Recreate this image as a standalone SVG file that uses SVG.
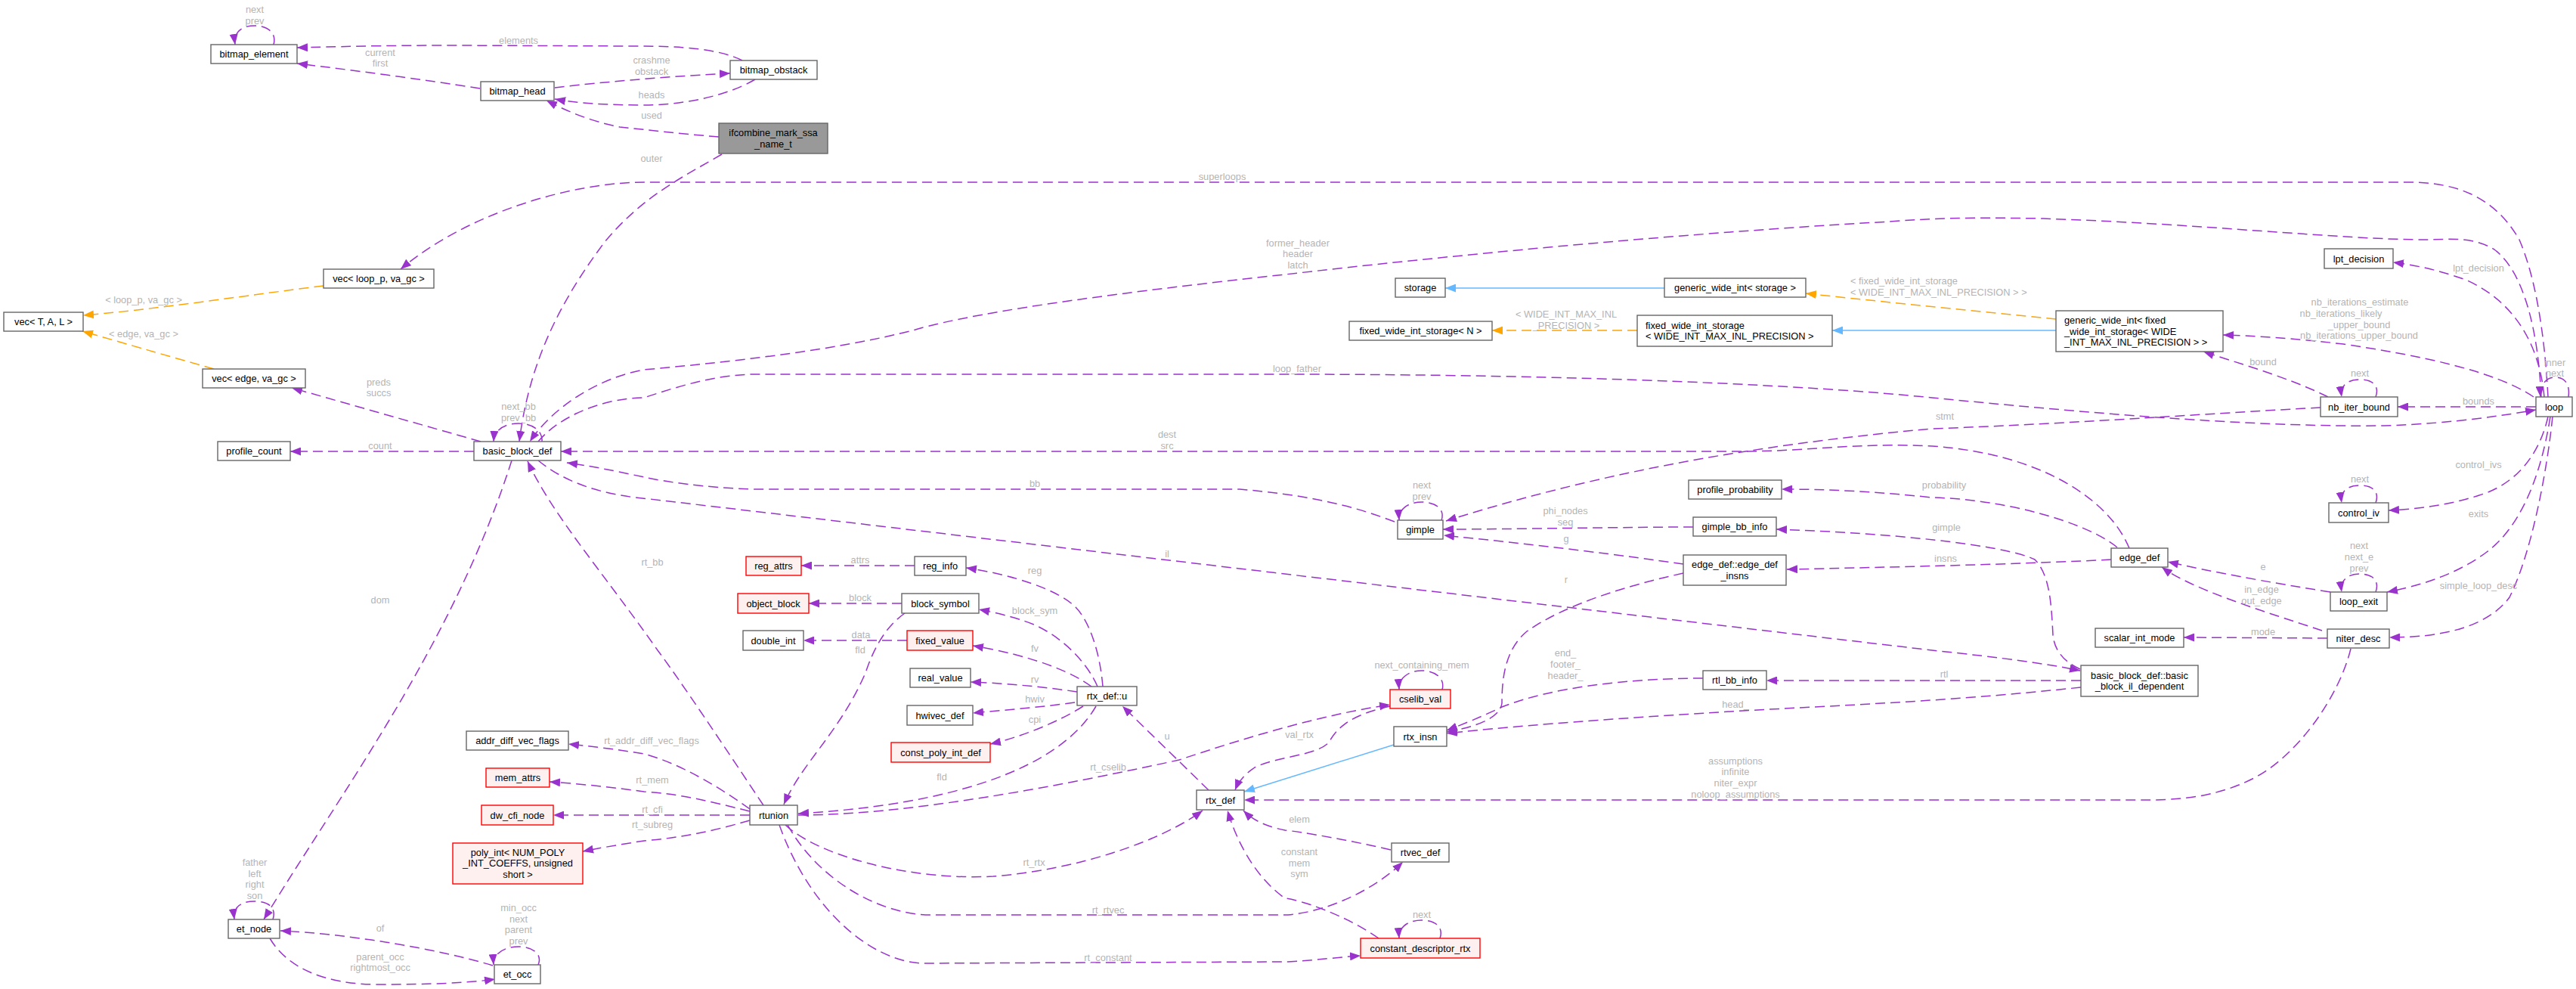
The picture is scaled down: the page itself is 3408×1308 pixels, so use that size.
<svg xmlns="http://www.w3.org/2000/svg" width="3408" height="1308" viewBox="0 0 3408 1308">
<style>
text{font-family:"Liberation Sans",Arial,sans-serif;font-size:12.8px}
.t{fill:#000;text-anchor:middle}
.tl{fill:#000;text-anchor:start}
.l{fill:#b4b4b4;text-anchor:middle}
.ll{fill:#b4b4b4;text-anchor:start}
.n rect{fill:#fff;stroke:#666;stroke-width:1.4}
.r rect{fill:#FFF0F0;stroke:#FF0000;stroke-width:1.4}
.g rect{fill:#999;stroke:#666;stroke-width:1.4}
.e{fill:none;stroke:#9A32CD;stroke-width:1.5;stroke-dasharray:13,7;marker-end:url(#ap)}
.o{fill:none;stroke:#FFA500;stroke-width:1.5;stroke-dasharray:13,7;marker-end:url(#ao)}
.b{fill:none;stroke:#63B8FF;stroke-width:1.5;marker-end:url(#ab)}
</style>
<defs>
<marker id="ap" markerUnits="userSpaceOnUse" markerWidth="15" markerHeight="11" refX="14" refY="5.5" orient="auto"><path d="M0,0 L14,5.5 L0,11 z" fill="#9A32CD"/></marker>
<marker id="ao" markerUnits="userSpaceOnUse" markerWidth="15" markerHeight="11" refX="14" refY="5.5" orient="auto"><path d="M0,0 L14,5.5 L0,11 z" fill="#FFA500"/></marker>
<marker id="ab" markerUnits="userSpaceOnUse" markerWidth="15" markerHeight="11" refX="14" refY="5.5" orient="auto"><path d="M0,0 L14,5.5 L0,11 z" fill="#63B8FF"/></marker>
</defs>
<rect width="3408" height="1308" fill="#fff"/>
<g id="edges">
<path class="e" d="M362,59 C366,45 356,34 337,34 C318,34 309,44 311,59"/>
<text class="l" x="337" y="16.5">next</text><text class="l" x="337" y="31.5">prev</text>
<path class="e" d="M982,80 C950,64 900,61 840,61 L600,60 C500,60 440,62 393,63"/>
<text class="l" x="686" y="57.5">elements</text>
<path class="e" d="M635,117 C560,105 460,92 393,84"/>
<text class="l" x="503" y="73.5">current</text><text class="l" x="503" y="87.5">first</text>
<path class="e" d="M734,116 C800,108 900,100 966,97"/>
<text class="l" x="862" y="83.5">crashme</text><text class="l" x="862" y="98.5">obstack</text>
<path class="e" d="M999,105 C960,128 900,139 852,139 C800,139 760,136 734,131"/>
<text class="l" x="862" y="129.5">heads</text>
<path class="e" d="M951,181 C900,177 860,172 820,168 C780,160 750,147 723,133"/>
<text class="l" x="862" y="156.5">used</text>
<path class="e" d="M955,204 C900,236 850,260 800,320 C740,400 700,480 687,584"/>
<text class="l" x="862" y="213.5">outer</text>
<path class="e" d="M3371,525 C3368,470 3360,380 3333,317 C3300,260 3250,241 3186,241 L852,241 C760,241 620,280 530,356"/>
<text class="l" x="1617" y="237.5">superloops</text>
<path class="e" d="M3362,525 C3358,440 3340,360 3300,330 C3270,312 3240,317 3208,317 C3100,317 2900,295 2700,289 C2600,287 2556,289 2500,293 C2200,310 1900,340 1700,363 C1500,385 1300,410 1211,436 C1100,465 950,480 852,489 C790,500 730,540 701,584"/>
<text class="l" x="1717" y="325.5">former_header</text><text class="l" x="1717" y="339.5">header</text><text class="l" x="1717" y="354.5">latch</text>
<path class="e" d="M712,584 C740,550 800,526 852,526 C900,510 950,495 1000,495 L1700,495 C2100,495 2400,510 2556,526 C2800,550 3000,565 3154,563 C3250,560 3320,548 3355,542"/>
<text class="l" x="1716" y="491.5">loop_father</text>
<path class="e" d="M2817,725 C2790,660 2700,600 2556,590 C2450,585 2400,597 2300,597 L742,597"/>
<text class="l" x="1544" y="578.5">dest</text><text class="l" x="1544" y="593.5">src</text>
<path class="e" d="M627,597 L384,597"/>
<text class="l" x="503" y="593.5">count</text>
<path class="e" d="M636,584 L386,513"/>
<text class="l" x="501" y="509.5">preds</text><text class="l" x="501" y="523.5">succs</text>
<path class="e" d="M717,584 C718,570 705,560 686,560 C668,560 654,568 653,584"/>
<text class="l" x="686" y="541.5">next_bb</text><text class="l" x="686" y="556.5">prev_bb</text>
<path class="e" d="M1845,690 C1780,665 1720,654 1640,647 L999,647 C930,645 880,637 852,631 C810,622 780,616 750,612"/>
<text class="l" x="1369" y="643.5">bb</text>
<path class="e" d="M712,609 C750,640 800,655 860,660 C1200,700 2300,830 2556,860 C2650,870 2710,878 2752,887"/>
<text class="l" x="1544" y="736.5">il</text>
<path class="e" d="M677,609 C600,850 450,1050 349,1216"/>
<text class="l" x="503" y="797.5">dom</text>
<path class="e" d="M361,1216 C366,1200 355,1192 337,1192 C318,1192 308,1200 310,1216"/>
<text class="l" x="337" y="1144.5">father</text><text class="l" x="337" y="1159.5">left</text><text class="l" x="337" y="1173.5">right</text><text class="l" x="337" y="1188.5">son</text>
<path class="e" d="M652,1277 C580,1255 460,1235 371,1231"/>
<text class="l" x="503" y="1231.5">of</text>
<path class="e" d="M357,1241 C380,1280 430,1302 500,1302 C570,1302 620,1300 655,1295"/>
<text class="l" x="503" y="1269.5">parent_occ</text><text class="l" x="503" y="1283.5">rightmost_occ</text>
<path class="e" d="M712,1276 C718,1262 705,1252 686,1252 C666,1252 652,1262 653,1276"/>
<text class="l" x="686" y="1204.5">min_occ</text><text class="l" x="686" y="1219.5">next</text><text class="l" x="686" y="1233.5">parent</text><text class="l" x="686" y="1248.5">prev</text>
<path class="e" d="M1010,1065 C960,990 900,900 870,860 C800,760 730,680 698,610"/>
<text class="l" x="863" y="747.5">rt_bb</text>
<path class="e" d="M992,1070 C950,1040 900,1010 852,997 C810,990 780,987 752,984"/>
<text class="l" x="862" y="983.5">rt_addr_diff_vec_flags</text>
<path class="e" d="M992,1073 C940,1060 900,1050 852,1047 C800,1040 760,1036 727,1034"/>
<text class="l" x="863" y="1035.5">rt_mem</text>
<path class="e" d="M992,1078 L732,1078"/>
<text class="l" x="863" y="1074.5">rt_cfi</text>
<path class="e" d="M992,1085 C940,1100 900,1108 852,1112 C820,1117 790,1122 771,1126"/>
<text class="l" x="863" y="1094.5">rt_subreg</text>
<path class="e" d="M1450,934 C1400,1020 1250,1065 1056,1076"/>
<text class="l" x="1246" y="1031.5">fld</text>
<path class="e" d="M1197,811 C1170,830 1155,860 1145,890 C1110,970 1060,1010 1037,1064"/>
<text class="l" x="1138" y="863.5">fld</text>
<path class="e" d="M1056,1078 C1200,1078 1400,1040 1560,1005 C1650,975 1750,945 1839,932"/>
<text class="l" x="1466" y="1018.5">rt_cselib</text>
<path class="e" d="M1839,934 C1790,945 1770,960 1758,982 C1740,1000 1690,1000 1660,1015 C1645,1025 1638,1035 1634,1045"/>
<text class="l" x="1719" y="975.5">val_rtx</text>
<path class="e" d="M1599,1045 L1485,934"/>
<text class="l" x="1544" y="977.5">u</text>
<path class="e" d="M1425,915 C1380,908 1320,903 1284,902"/>
<text class="l" x="1369" y="902.5">rv</text>
<path class="e" d="M1422,929 C1380,935 1320,940 1287,943"/>
<text class="l" x="1369" y="928.5">hwiv</text>
<path class="e" d="M1433,934 C1400,955 1350,975 1310,984"/>
<text class="l" x="1369" y="955.5">cpi</text>
<path class="e" d="M1444,908 C1420,890 1370,868 1287,854"/>
<text class="l" x="1369" y="861.5">fv</text>
<path class="e" d="M1452,908 C1440,880 1410,845 1368,826 C1340,815 1315,810 1295,806"/>
<text class="l" x="1369" y="811.5">block_sym</text>
<path class="e" d="M1459,908 C1455,860 1440,820 1423,803 C1400,780 1340,760 1278,751"/>
<text class="l" x="1369" y="758.5">reg</text>
<path class="e" d="M1210,748 L1060,748"/>
<text class="l" x="1138" y="744.5">attrs</text>
<path class="e" d="M1193,798 L1070,798"/>
<text class="l" x="1138" y="794.5">block</text>
<path class="e" d="M1200,847 L1063,847"/>
<text class="l" x="1139" y="843.5">data</text>
<path class="e" d="M1039,1091 C1080,1130 1200,1165 1314,1159 C1430,1150 1540,1110 1591,1072"/>
<text class="l" x="1368" y="1144.5">rt_rtx</text>
<path class="e" d="M1042,1091 C1080,1160 1160,1210 1232,1210 L1704,1210 C1760,1205 1820,1175 1856,1140"/>
<text class="l" x="1466" y="1207.5">rt_rtvec</text>
<path class="e" d="M1031,1091 C1070,1200 1150,1272 1222,1274 L1704,1272 C1740,1270 1770,1266 1800,1264"/>
<text class="l" x="1466" y="1270.5">rt_constant</text>
<path class="e" d="M1840,1124 C1780,1110 1720,1100 1700,1098 C1670,1092 1655,1082 1645,1072"/>
<text class="l" x="1719" y="1087.5">elem</text>
<path class="e" d="M1824,1241 C1780,1210 1720,1190 1700,1188 C1660,1160 1635,1110 1624,1072"/>
<text class="l" x="1719" y="1130.5">constant</text><text class="l" x="1719" y="1145.5">mem</text><text class="l" x="1719" y="1159.5">sym</text>
<path class="e" d="M1905,1241 C1910,1227 1900,1217 1881,1217 C1862,1217 1850,1227 1851,1241"/>
<text class="l" x="1881" y="1213.5">next</text>
<path class="e" d="M1908,912 C1912,898 1900,887 1881,887 C1862,887 1850,898 1851,912"/>
<text class="l" x="1881" y="883.5">next_containing_mem</text>
<path class="e" d="M3110,858 C3095,920 3040,1000 2980,1030 C2930,1055 2880,1058 2840,1058 L1646,1058"/>
<text class="l" x="2296" y="1010.5">assumptions</text><text class="l" x="2296" y="1024.5">infinite</text><text class="l" x="2296" y="1039.5">niter_expr</text><text class="l" x="2296" y="1054.5">noloop_assumptions</text>
<path class="b" d="M1844,985 L1646,1047"/>
<path class="e" d="M2753,900 L2337,900"/>
<text class="l" x="2572" y="895.5">rtl</text>
<path class="e" d="M2753,909 C2650,920 2556,927 2400,935 C2200,945 2000,960 1914,970"/>
<text class="l" x="2296" y="935.5">head_</text>
<path class="e" d="M2253,897 C2150,897 2050,910 1987,935 C1960,948 1935,958 1914,966"/>
<text class="l" x="2071" y="867.5">end_</text><text class="l" x="2071" y="882.5">footer_</text><text class="l" x="2071" y="897.5">header_</text>
<path class="e" d="M2227,758 C2150,775 2070,800 2020,835 C1990,860 1987,900 1987,930 C1985,950 1950,962 1914,968"/>
<text class="l" x="2072" y="770.5">r</text>
<path class="e" d="M2227,746 C2150,735 2050,722 1910,708"/>
<text class="l" x="2072" y="716.5">g</text>
<path class="e" d="M2240,697 C2150,697 2000,700 1909,700"/>
<text class="l" x="2071" y="679.5">phi_nodes</text><text class="l" x="2071" y="694.5">seq</text>
<path class="e" d="M1907,688 C1912,674 1900,664 1881,664 C1862,664 1850,674 1851,688"/>
<text class="l" x="1881" y="645.5">next</text><text class="l" x="1881" y="660.5">prev</text>
<path class="e" d="M3070,539 C2950,545 2750,560 2556,567 C2300,590 2100,630 1913,689"/>
<text class="l" x="2573" y="554.5">stmt</text>
<path class="e" d="M2801,724 C2760,690 2650,660 2556,658 C2480,650 2420,647 2357,647"/>
<text class="l" x="2572" y="645.5">probability</text>
<path class="e" d="M2752,885 C2730,875 2718,860 2716,840 C2714,800 2712,760 2692,740 C2650,720 2500,705 2350,700"/>
<text class="l" x="2575" y="701.5">gimple</text>
<path class="e" d="M2793,740 C2700,745 2556,749 2364,753"/>
<text class="l" x="2574" y="742.5">insns</text>
<path class="e" d="M3083,783 C3000,770 2920,755 2868,743"/>
<text class="l" x="2994" y="753.5">e</text>
<path class="e" d="M3072,834 C3000,810 2900,780 2860,750"/>
<text class="l" x="2992" y="783.5">in_edge</text><text class="l" x="2992" y="798.5">out_edge</text>
<path class="e" d="M3079,844 L2889,843"/>
<text class="l" x="2994" y="839.5">mode</text>
<path class="e" d="M3377,551 C3370,620 3350,730 3320,790 C3290,830 3230,843 3161,843"/>
<text class="l" x="3279" y="778.5">simple_loop_desc</text>
<path class="e" d="M3374,551 C3360,640 3330,700 3290,730 C3250,760 3200,775 3158,783"/>
<text class="l" x="3279" y="683.5">exits</text>
<path class="e" d="M3371,551 C3360,600 3330,640 3280,655 C3240,668 3200,673 3160,675"/>
<text class="l" x="3279" y="618.5">control_ivs</text>
<path class="e" d="M3143,665 C3148,651 3140,642 3122,642 C3104,642 3096,651 3098,665"/>
<text class="l" x="3122" y="637.5">next</text>
<path class="e" d="M3143,783 C3148,769 3140,759 3122,759 C3104,759 3096,769 3098,783"/>
<text class="l" x="3121" y="725.5">next</text><text class="l" x="3121" y="740.5">next_e</text><text class="l" x="3121" y="755.5">prev</text>
<path class="e" d="M3143,525 C3148,511 3140,502 3122,502 C3104,502 3096,511 3098,525"/>
<text class="l" x="3122" y="497.5">next</text>
<path class="e" d="M3398,525 C3400,510 3395,499 3380,499 C3368,499 3360,510 3361,525"/>
<text class="l" x="3380" y="483.5">inner</text><text class="l" x="3380" y="497.5">next</text>
<path class="e" d="M3355,538 L3172,538"/>
<text class="l" x="3279" y="534.5">bounds</text>
<path class="e" d="M3080,525 C3030,500 2960,480 2915,465"/>
<text class="l" x="2994" y="482.5">bound</text>
<path class="e" d="M3352,525 C3300,490 3200,470 3100,455 C3030,447 2980,444 2941,443"/>
<text class="l" x="3122" y="403.5">nb_iterations_estimate</text><text class="l" x="3097" y="418.5">nb_iterations_likely</text><text class="l" x="3121" y="433.5">_upper_bound</text><text class="l" x="3121" y="447.5">nb_iterations_upper_bound</text>
<path class="e" d="M3366,525 C3360,460 3330,400 3262,370 C3220,355 3190,350 3166,347"/>
<text class="l" x="3279" y="358.5">lpt_decision</text>
<path class="o" d="M428,378 C330,390 200,410 110,417"/>
<text class="l" x="190" y="400.5">&lt; loop_p, va_gc &gt;</text>
<path class="o" d="M283,488 C220,470 150,450 109,438"/>
<text class="l" x="190" y="445.5">&lt; edge, va_gc &gt;</text>
<path class="o" d="M2720,422 C2600,410 2450,395 2389,388"/>
<text class="ll" x="2448" y="375.5">&lt; fixed_wide_int_storage</text><text class="ll" x="2448" y="390.5">&lt; WIDE_INT_MAX_INL_PRECISION &gt; &gt;</text>
<path class="o" d="M2166,437 L1974,437"/>
<text class="l" x="2072" y="419.5">&lt; WIDE_INT_MAX_INL</text><text class="l" x="2072" y="434.5">_PRECISION &gt;</text>
<path class="b" d="M2202,381 L1912,381"/>
<path class="b" d="M2720,437 L2424,437"/>
</g>
<g id="n-bitmap_element" class="n"><rect x="279" y="59" width="114" height="25"/><text class="t" x="336" y="76">bitmap_element</text></g>
<g id="n-bitmap_head" class="n"><rect x="636" y="108" width="97" height="25"/><text class="t" x="684.5" y="125">bitmap_head</text></g>
<g id="n-bitmap_obstack" class="n"><rect x="966" y="80" width="115" height="25"/><text class="t" x="1023.5" y="97">bitmap_obstack</text></g>
<g id="n-ifcombine" class="g"><rect x="951" y="163" width="144" height="40"/><text class="t" x="1023" y="179.5">ifcombine_mark_ssa</text><text class="t" x="1023" y="194.5">_name_t</text></g>
<g id="n-vec_loop" class="n"><rect x="428" y="356" width="146" height="25"/><text class="t" x="501" y="373">vec&lt; loop_p, va_gc &gt;</text></g>
<g id="n-vec_tal" class="n"><rect x="5" y="413" width="105" height="25"/><text class="t" x="57.5" y="430">vec&lt; T, A, L &gt;</text></g>
<g id="n-vec_edge" class="n"><rect x="268" y="488" width="136" height="25"/><text class="t" x="336" y="505">vec&lt; edge, va_gc &gt;</text></g>
<g id="n-profile_count" class="n"><rect x="288" y="584" width="96" height="25"/><text class="t" x="336" y="601">profile_count</text></g>
<g id="n-basic_block_def" class="n"><rect x="627" y="584" width="115" height="25"/><text class="t" x="684.5" y="601">basic_block_def</text></g>
<g id="n-storage" class="n"><rect x="1846" y="368" width="66" height="25"/><text class="t" x="1879" y="385">storage</text></g>
<g id="n-gwi_storage" class="n"><rect x="2202" y="368" width="187" height="25"/><text class="t" x="2295.5" y="385">generic_wide_int&lt; storage &gt;</text></g>
<g id="n-fwis_n" class="n"><rect x="1785" y="425" width="189" height="25"/><text class="t" x="1879.5" y="442">fixed_wide_int_storage&lt; N &gt;</text></g>
<g id="n-fwis_w" class="n"><rect x="2166" y="417" width="258" height="41"/><text class="tl" x="2177" y="434.5">fixed_wide_int_storage</text><text class="tl" x="2177" y="448.5">&lt; WIDE_INT_MAX_INL_PRECISION &gt;</text></g>
<g id="n-gwi_fixed" class="n"><rect x="2720" y="411" width="221" height="54"/><text class="tl" x="2731" y="427.5">generic_wide_int&lt; fixed</text><text class="tl" x="2731" y="442.5">_wide_int_storage&lt; WIDE</text><text class="tl" x="2731" y="456.5">_INT_MAX_INL_PRECISION &gt; &gt;</text></g>
<g id="n-lpt_decision" class="n"><rect x="3075" y="329" width="91" height="26"/><text class="t" x="3120.5" y="346.5">lpt_decision</text></g>
<g id="n-loop" class="n"><rect x="3355" y="525" width="48" height="26"/><text class="t" x="3379" y="542.5">loop</text></g>
<g id="n-nb_iter_bound" class="n"><rect x="3070" y="525" width="102" height="26"/><text class="t" x="3121" y="542.5">nb_iter_bound</text></g>
<g id="n-gimple" class="n"><rect x="1849" y="688" width="60" height="25"/><text class="t" x="1879" y="705">gimple</text></g>
<g id="n-profile_probability" class="n"><rect x="2234" y="635" width="123" height="25"/><text class="t" x="2295.5" y="652">profile_probability</text></g>
<g id="n-gimple_bb_info" class="n"><rect x="2240" y="684" width="110" height="25"/><text class="t" x="2295" y="701">gimple_bb_info</text></g>
<g id="n-edge_def_insns" class="n"><rect x="2227" y="734" width="136" height="40"/><text class="t" x="2295" y="750.5">edge_def::edge_def</text><text class="t" x="2295" y="765.5">_insns</text></g>
<g id="n-edge_def" class="n"><rect x="2793" y="725" width="75" height="25"/><text class="t" x="2830.5" y="742">edge_def</text></g>
<g id="n-control_iv" class="n"><rect x="3081" y="665" width="79" height="26"/><text class="t" x="3120.5" y="682.5">control_iv</text></g>
<g id="n-loop_exit" class="n"><rect x="3083" y="783" width="75" height="25"/><text class="t" x="3120.5" y="800">loop_exit</text></g>
<g id="n-scalar_int_mode" class="n"><rect x="2772" y="831" width="117" height="25"/><text class="t" x="2830.5" y="848">scalar_int_mode</text></g>
<g id="n-niter_desc" class="n"><rect x="3079" y="832" width="82" height="25"/><text class="t" x="3120" y="849">niter_desc</text></g>
<g id="n-reg_attrs" class="r"><rect x="987" y="736" width="73" height="25"/><text class="t" x="1023.5" y="753">reg_attrs</text></g>
<g id="n-reg_info" class="n"><rect x="1210" y="736" width="68" height="25"/><text class="t" x="1244" y="753">reg_info</text></g>
<g id="n-object_block" class="r"><rect x="976" y="785" width="94" height="26"/><text class="t" x="1023" y="802.5">object_block</text></g>
<g id="n-block_symbol" class="n"><rect x="1193" y="785" width="102" height="26"/><text class="t" x="1244" y="802.5">block_symbol</text></g>
<g id="n-double_int" class="n"><rect x="983" y="834" width="80" height="26"/><text class="t" x="1023" y="851.5">double_int</text></g>
<g id="n-fixed_value" class="r"><rect x="1200" y="834" width="87" height="26"/><text class="t" x="1243.5" y="851.5">fixed_value</text></g>
<g id="n-real_value" class="n"><rect x="1204" y="884" width="80" height="25"/><text class="t" x="1244" y="901">real_value</text></g>
<g id="n-rtx_def_u" class="n"><rect x="1425" y="908" width="79" height="25"/><text class="t" x="1464.5" y="925">rtx_def::u</text></g>
<g id="n-hwivec_def" class="n"><rect x="1200" y="933" width="87" height="26"/><text class="t" x="1243.5" y="950.5">hwivec_def</text></g>
<g id="n-const_poly_int_def" class="r"><rect x="1179" y="982" width="131" height="26"/><text class="t" x="1244.5" y="999.5">const_poly_int_def</text></g>
<g id="n-cselib_val" class="r"><rect x="1839" y="912" width="80" height="25"/><text class="t" x="1879" y="929">cselib_val</text></g>
<g id="n-rtx_insn" class="n"><rect x="1844" y="961" width="70" height="26"/><text class="t" x="1879" y="978.5">rtx_insn</text></g>
<g id="n-rtl_bb_info" class="n"><rect x="2253" y="887" width="84" height="25"/><text class="t" x="2295" y="904">rtl_bb_info</text></g>
<g id="n-bb_il_dependent" class="n"><rect x="2753" y="880" width="155" height="41"/><text class="t" x="2830.5" y="897.5">basic_block_def::basic</text><text class="t" x="2830.5" y="911.5">_block_il_dependent</text></g>
<g id="n-addr_diff_vec_flags" class="n"><rect x="617" y="967" width="135" height="25"/><text class="t" x="684.5" y="984">addr_diff_vec_flags</text></g>
<g id="n-mem_attrs" class="r"><rect x="643" y="1016" width="84" height="25"/><text class="t" x="685" y="1033">mem_attrs</text></g>
<g id="n-dw_cfi_node" class="r"><rect x="637" y="1065" width="95" height="26"/><text class="t" x="684.5" y="1082.5">dw_cfi_node</text></g>
<g id="n-poly_int" class="r"><rect x="599" y="1115" width="172" height="54"/><text class="t" x="685" y="1131.5">poly_int&lt; NUM_POLY</text><text class="t" x="685" y="1145.5">_INT_COEFFS, unsigned</text><text class="t" x="685" y="1160.5">short &gt;</text></g>
<g id="n-rtunion" class="n"><rect x="992" y="1065" width="63" height="26"/><text class="t" x="1023.5" y="1082.5">rtunion</text></g>
<g id="n-rtx_def" class="n"><rect x="1583" y="1045" width="63" height="26"/><text class="t" x="1614.5" y="1062.5">rtx_def</text></g>
<g id="n-rtvec_def" class="n"><rect x="1841" y="1115" width="76" height="25"/><text class="t" x="1879" y="1132">rtvec_def</text></g>
<g id="n-constant_descriptor_rtx" class="r"><rect x="1800" y="1241" width="158" height="26"/><text class="t" x="1879" y="1258.5">constant_descriptor_rtx</text></g>
<g id="n-et_node" class="n"><rect x="302" y="1216" width="68" height="25"/><text class="t" x="336" y="1233">et_node</text></g>
<g id="n-et_occ" class="n"><rect x="654" y="1276" width="61" height="25"/><text class="t" x="684.5" y="1293">et_occ</text></g>
</svg>
